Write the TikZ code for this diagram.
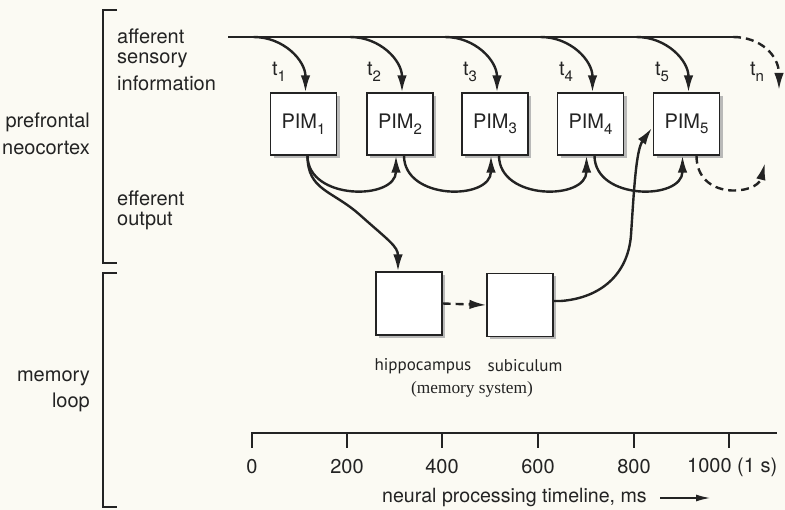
\documentclass[tikz,border=0pt]{standalone}
\usepackage{fontspec}
\setmainfont{TeX Gyre Heros}
\newfontfamily\labfont{PT Sans}
\newfontfamily\serfont{Liberation Serif}
\usetikzlibrary{arrows.meta,shadows,calc}
\definecolor{paper}{RGB}{251,250,243}
\definecolor{ink}{RGB}{35,35,35}
\newcommand{\sbs}[1]{\raisebox{-0.28em}{\fontsize{15}{15}\selectfont #1}}
\begin{document}
\begin{tikzpicture}[x=1pt,y=-1pt,
  every node/.style={inner sep=0pt,text=ink},
  font=\fontsize{20}{24}\selectfont,
  box/.style={draw=ink,line width=1.2pt,fill=white,minimum width=66pt,minimum height=62pt,
    drop shadow={shadow xshift=3pt,shadow yshift=-3pt,fill=black!30,opacity=0.9}},
  conn/.style={draw=ink,line width=2.4pt,-{Latex[length=17pt,width=9.5pt]}},
  dconn/.style={conn,dash pattern=on 8pt off 5pt},
  brack/.style={draw=ink,line width=1.2pt},
  axis/.style={draw=ink,line width=2pt},
  sub/.style={font=\labfont\fontsize{17}{19}\selectfont},
  ]
\fill[paper] (0,0) rectangle (785,510);
\useasboundingbox (0,0) rectangle (785,510);

% brackets
\draw[brack] (117,10) -- (103,10) -- (103,263) -- (117,263);
\draw[brack] (117,273) -- (103,273) -- (103,507) -- (117,507);

% side labels
\node[anchor=west] (aff1) at (117,36) {afferent};
\node[anchor=west] (aff2) at (117,60) {sensory};
\node[anchor=west] (aff3) at (117,83) {information};
\node[anchor=east] (pf1) at (90,122) {prefrontal};
\node[anchor=east] (pf2) at (90,148) {neocortex};
\node[anchor=west] (eff1) at (117,198) {efferent};
\node[anchor=west] (eff2) at (117,221) {output};
\node[anchor=east] (ml1) at (90,378) {memory};
\node[anchor=east] (ml2) at (90,402) {loop};

% PIM boxes
\node[box] (P1) at (303.5,124) {PIM\sbs{1}};
\node[box] (P2) at (400,124) {PIM\sbs{2}};
\node[box] (P3) at (495,124) {PIM\sbs{3}};
\node[box] (P4) at (590.5,124) {PIM\sbs{4}};
\node[box] (P5) at (686.5,124) {PIM\sbs{5}};

% memory boxes
\node[box,minimum height=63pt] (H) at (409,303.5) {};
\node[box,minimum height=63pt] (S) at (520,305) {};

% top afferent line
\coordinate (in) at (228,37);
\coordinate (lend) at (733,37);
\draw[draw=ink,line width=2.4pt] (in) -- (lend);
\foreach \i/\cx in {1/303.5,2/400,3/495,4/590.5,5/686.5}{
  \coordinate (s\i) at (\cx-50,37);
  \draw[conn] (s\i) .. controls +(30,0) and +(0,-32) .. ($(P\i.north)+(2,0)$);
}
\coordinate (tnend) at (779,90);
\draw[dconn] (lend) .. controls +(27,0) and +(0,-35) .. (tnend);

% t labels
\node (t1) at (279,72) {t\sbs{1}};
\node (t2) at (374,72) {t\sbs{2}};
\node (t3) at (470,72) {t\sbs{3}};
\node (t4) at (566,72) {t\sbs{4}};
\node (t5) at (662,72) {t\sbs{5}};
\node (tn) at (757,72) {t\sbs{n}};

% bottom efferent arrows
\foreach \i/\j in {1/2,2/3,3/4,4/5}{
  \draw[conn] ($(P\i.south)+(4,0)$) .. controls +(0,45) and +(0,45) .. ($(P\j.south)+(-4,0)$);
}
\coordinate (dn) at (765,163);
\draw[dconn] ($(P5.south)+(10,0)$) .. controls +(0,45) and +(-8,32) .. (dn);

% PIM1 -> hippocampus
\draw[conn] ($(P1.south)+(4,0)$) .. controls +(0,35) and +(-28,-25) .. (360,215)
   .. controls +(28,25) and +(0,-25) .. ($(H.north)+(-11,0)$);

% hippocampus -> subiculum
\draw[dconn] (H.east) -- (S.west);

% subiculum -> PIM5
\draw[conn] ($(S.east)+(0,-4)$) -- (561,301) .. controls (600,298) and (628,275) .. (631,235)
   .. controls (634,190) and (636,150) .. ($(P5.west)+(-1,4)$);

% memory labels
\node[sub] (hl) at (423,366) {hippocampus};
\node[sub] (sl) at (525,366) {subiculum};
\node[font=\serfont\fontsize{17.3}{20}\selectfont] (ms) at (472,389) {(memory system)};

% timeline
\coordinate (a0) at (252,433);
\coordinate (a1) at (777,433);
\draw[axis] ($(a0)+(0,15)$) -- (a0) -- (a1);
\foreach \v/\x in {200/347,400/442,600/538,800/634,1000/729}{
  \draw[axis] (\x,433) -- (\x,448);
}
\foreach \v/\x in {0/252,200/347,400/442,600/538,800/634}{
  \node (lab\v) at (\x,467) {\v};
}
\node[anchor=west] (lab1000) at (687,467) {1000 (1 s)};
\node[anchor=west] (tl) at (382,497) {\fontsize{19.6}{22}\selectfont neural processing timeline, ms};
\coordinate (ta0) at (660,498);
\coordinate (ta1) at (710,498);
\draw[draw=ink,line width=1.3pt,-{Latex[length=14pt,width=7pt]}] (ta0) -- (ta1);
\end{tikzpicture}
\end{document}
